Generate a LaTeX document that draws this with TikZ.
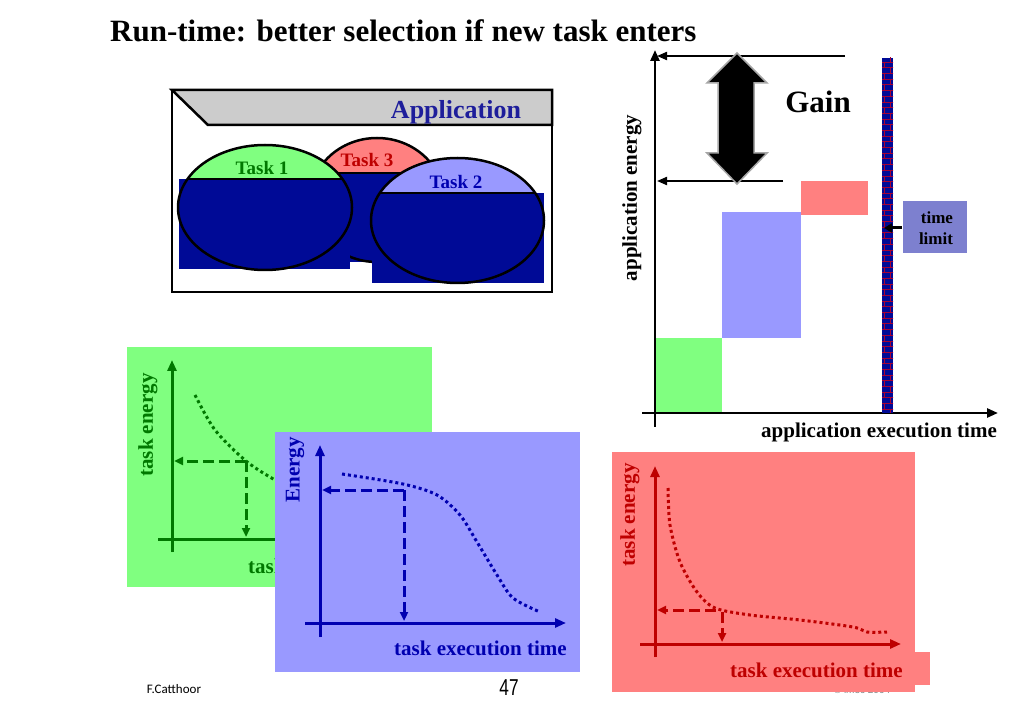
\documentclass[tikz,border=0pt]{standalone}
\usepackage{fontspec}
\setmainfont{Liberation Serif}
\setsansfont{Liberation Sans}
\newfontfamily\carl{Carlito}
\usetikzlibrary{arrows.meta,patterns}
\definecolor{lgreen}{RGB}{128,255,128}
\definecolor{dgreen}{RGB}{0,120,0}
\definecolor{lred}{RGB}{255,128,128}
\definecolor{dred}{RGB}{190,0,0}
\definecolor{lblue}{RGB}{153,153,255}
\definecolor{dblue}{RGB}{0,0,176}
\definecolor{navyf}{RGB}{0,10,150}
\definecolor{appblue}{RGB}{30,30,155}
\definecolor{banner}{RGB}{204,204,204}
\definecolor{tlbox}{RGB}{125,128,207}
\begin{document}
\begin{tikzpicture}[x=1pt,y=-1pt,
  ax/.style={line width=3pt},
  axar/.style={line width=3pt,-{Triangle[length=11pt,width=9pt]}},
  dotc/.style={line width=3pt,dash pattern=on 3pt off 3pt},
  dsh/.style={line width=3pt,dash pattern=on 11pt off 5pt,-{Triangle[length=9pt,width=8pt]}},
  lbl/.style={font=\bfseries\fontsize{21}{24}\selectfont,inner sep=0pt},
  tasklbl/.style={font=\bfseries\fontsize{19}{22}\selectfont,inner sep=0pt},
  outl/.style={line width=2.5pt,draw=black}]
\useasboundingbox (0,0) rectangle (1023,708);
\fill[white] (0,0) rectangle (1023,708);
% title
\node[anchor=base west,inner sep=0pt,font=\bfseries\fontsize{31}{34}\selectfont] (title) at (110,42) {Run-time: better selection if new task enters};

% ---------- application box ----------
\draw[outl] (172,90) rectangle (552,292);
\filldraw[outl,fill=banner] (172,90) -- (552,90) -- (552,125) -- (208,125) -- cycle;
\node[font=\bfseries\fontsize{26}{28}\selectfont,text=appblue,inner sep=0pt] (app) at (456,112) {Application};

% Task 3
\coordinate (t3) at (377,200);
\fill[lred] (t3) ellipse [x radius=67pt, y radius=62pt];
\fill[navyf] (313,173) rectangle (441,262);
\begin{scope}\clip (t3) ellipse [x radius=67pt, y radius=62pt];
\fill[navyf] (300,173) rectangle (460,270);
\draw[line width=2.5pt] (300,173) -- (460,173);\end{scope}
\draw[outl] (t3) ellipse [x radius=67pt, y radius=62pt];
\node[tasklbl,text=dred] (t3l) at (367,160) {Task 3};
% Task 1
\coordinate (t1) at (265,207.5);
\fill[lgreen] (t1) ellipse [x radius=87pt, y radius=62.5pt];
\fill[navyf] (179,179) rectangle (350,269);
\begin{scope}\clip (t1) ellipse [x radius=87pt, y radius=62.5pt];
\fill[navyf] (170,179) rectangle (360,275);
\draw[line width=2.5pt] (170,179) -- (360,179);\end{scope}
\draw[outl] (t1) ellipse [x radius=87pt, y radius=62.5pt];
\node[tasklbl,text=dgreen] (t1l) at (262,168) {Task 1};
% Task 2
\coordinate (t2) at (457.5,220.5);
\fill[lblue] (t2) ellipse [x radius=86.5pt, y radius=62.5pt];
\fill[navyf] (372,193) rectangle (544,283);
\begin{scope}\clip (t2) ellipse [x radius=86.5pt, y radius=62.5pt];
\fill[navyf] (360,193) rectangle (560,290);
\draw[line width=2.5pt] (360,193) -- (560,193);\end{scope}
\draw[outl] (t2) ellipse [x radius=86.5pt, y radius=62.5pt];
\node[tasklbl,text=dblue] (t2l) at (456,182) {Task 2};

% ---------- application chart ----------
\fill[lgreen] (655,338) rectangle (722,413);
\fill[lblue] (722,212) rectangle (801,338);
\fill[lred] (801,181) rectangle (868,215);
\coordinate (aO) at (655,413);
\coordinate (aYb) at (655,427);
\coordinate (aYt) at (655,50);
\coordinate (aXl) at (642,413);
\coordinate (aXr) at (998,413);
\draw[axar,line width=2.5pt] (aYb) -- (aYt);
\draw[axar,line width=2.5pt] (aXl) -- (aXr);
% time limit bar
\fill[navyf] (882,58) rectangle (893,413);
\fill[pattern=bricks,pattern color=red!65!navyf] (882,58) rectangle (893,413);
\node[fill=tlbox,minimum width=64pt,minimum height=52pt,inner sep=0pt,anchor=north west] (tl) at (903,201) {};
\node[font=\bfseries\fontsize{17}{21}\selectfont,align=right,inner sep=0pt] (tlt) at (936,228) {time\\limit};
\coordinate (tlbar) at (884,228);
\coordinate (tlstart) at (902,228);
\draw[line width=3pt,-{Triangle[length=8pt,width=9pt]}] (tlstart) -- (tlbar);
% gain lines
\coordinate (g1r) at (845,56);
\coordinate (g1l) at (657,56);
\coordinate (g2r) at (783,181);
\coordinate (g2l) at (657,181);
\draw[line width=2pt,-{Triangle[length=10pt,width=8pt]}] (g1r) -- (g1l);
\draw[line width=2pt,-{Triangle[length=10pt,width=8pt]}] (g2r) -- (g2l);
% block double arrow
\filldraw[fill=black,draw=gray!70,line width=1.5pt] (737,53) -- (767,83) -- (754,83) -- (754,153) -- (767,153) -- (737,184) -- (707,153) -- (718,153) -- (718,83) -- (707,83) -- cycle;
\node[font=\bfseries\fontsize{31}{34}\selectfont,inner sep=0pt] (gain) at (818,102) {Gain};
\node[lbl,rotate=90] (aylab) at (632,198) {application energy};
\node[lbl,anchor=base east] (axlab) at (997,438) {application execution time};

% ---------- footer ----------
\node[font=\carl\fontsize{13}{14}\selectfont,inner sep=0pt] (auth) at (174,689) {F.Catthoor};
\node[font=\sffamily\fontsize{23}{24}\selectfont,inner sep=0pt] (pg) at (509,688) {\scalebox{0.75}[1]{47}};
\node[font=\sffamily\fontsize{10}{11}\selectfont,inner sep=0pt,text=gray] (copy) at (862,690) {\copyright\ imec 2004};

% ---------- green panel ----------
\fill[lgreen] (127,347) rectangle (432,587);
\coordinate (gYb) at (172,552);
\coordinate (gYt) at (172,360);
\coordinate (gXl) at (158,539);
\coordinate (gXr) at (420,539);
\coordinate (gP) at (246,461);
\draw[axar,draw=dgreen,fill=dgreen] (gYb) -- (gYt);
\draw[axar,draw=dgreen,fill=dgreen] (gXl) -- (gXr);
\draw[dotc,dgreen] plot[smooth] coordinates {(195,395) (215,430) (246,461) (275,480) (300,492)};
\draw[dsh,dgreen] (gP) -- (gP -| 174,0);
\draw[dsh,dgreen] (gP) -- (246,537);
\node[lbl,rotate=90,text=dgreen] (gylab) at (148,425) {task energy};
\node[lbl,anchor=base west,text=dgreen] (gxlab) at (248,573) {task execution time};

% ---------- blue panel ----------
\fill[lblue] (275,432) rectangle (580,672);
\coordinate (bYb) at (320,637);
\coordinate (bYt) at (320,445);
\coordinate (bXl) at (305,623);
\coordinate (bXr) at (566,623);
\coordinate (bP) at (404,490);
\draw[axar,draw=dblue,fill=dblue] (bYb) -- (bYt);
\draw[axar,draw=dblue,fill=dblue] (bXl) -- (bXr);
\draw[dotc,dblue] plot[smooth] coordinates {(342,474) (403,484) (437,495) (460,515) (477,542) (497,575) (513,598) (540,612)};
\draw[dsh,dblue] (bP) -- (322,490);
\draw[dsh,dblue] (bP) -- (404,621);
\node[lbl,rotate=90,text=dblue] (bylab) at (295,470) {Energy};
\node[lbl,anchor=base east,text=dblue] (bxlab) at (567,655) {task execution time};

% ---------- red panel ----------
\fill[lred] (612,452) rectangle (915,692);
\fill[lred] (612,652) rectangle (930,685);
\coordinate (rYb) at (655,657);
\coordinate (rYt) at (655,466);
\coordinate (rXl) at (640,644);
\coordinate (rXr) at (901,644);
\coordinate (rP) at (716,610);
\draw[axar,draw=dred,fill=dred] (rYb) -- (rYt);
\draw[axar,draw=dred,fill=dred] (rXl) -- (rXr);
\draw[dotc,dred] plot[smooth] coordinates {(668,488) (670,525) (680,562) (697,592) (715,608) (750,615) (800,620) (853,627) (867,632) (887,632)};
\draw[dsh,dred] (rP) -- (657,610);
\draw[dsh,dred] (722,612) -- (722,642);
\node[lbl,rotate=90,text=dred] (rylab) at (630,515) {task energy};
\node[lbl,anchor=base east,text=dred] (rxlab) at (903,677) {task execution time};
\end{tikzpicture}
\end{document}
